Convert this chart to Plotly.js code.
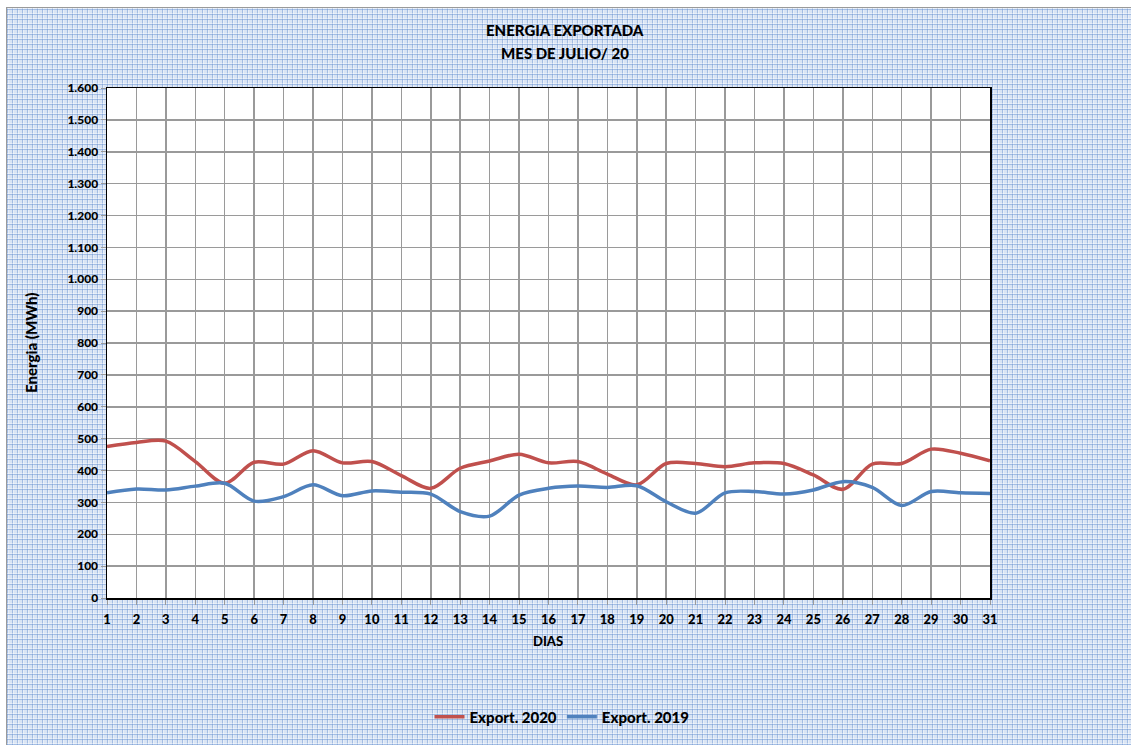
<!DOCTYPE html>
<html>
<head>
<meta charset="utf-8">
<script src="https://cdn.plot.ly/plotly-3.0.1.min.js"></script>
<style>
html,body{margin:0;padding:0;width:1131px;height:745px;overflow:hidden;background:#ffffff;}
#bg{position:absolute;left:6px;top:7px;width:1125px;height:738px;box-sizing:border-box;
 border-left:1px solid #9a9a9a;border-top:1px solid #9a9a9a;
 background-color:#d9e4f4;
 background-image:
  repeating-linear-gradient(0deg, rgba(110,150,210,0.5) 0px, rgba(110,150,210,0.5) 1px, rgba(255,255,255,0.4) 1px, rgba(255,255,255,0.4) 2px, transparent 2px, transparent 5px),
  repeating-linear-gradient(90deg, rgba(110,150,210,0.5) 0px, rgba(110,150,210,0.5) 1px, rgba(255,255,255,0.4) 1px, rgba(255,255,255,0.4) 2px, transparent 2px, transparent 5px);}
#chart{position:absolute;left:0;top:0;width:1131px;height:745px;}
</style>
</head>
<body>
<div id="bg"></div>
<div id="chart"></div>
<script>
const days = [1,2,3,4,5,6,7,8,9,10,11,12,13,14,15,16,17,18,19,20,21,22,23,24,25,26,27,28,29,30,31];
const export2020 = [475,488,492,428,360,426,420,462,424,428,384,344,407,430,451,424,428,389,355,422,422,412,424,422,386,341,420,422,467,454,430];
const export2019 = [330,342,339,351,360,304,318,355,321,336,332,326,271,257,323,344,351,347,352,302,266,330,334,326,339,365,347,290,334,330,328];
const yTicks = [0,100,200,300,400,500,600,700,800,900,1000,1100,1200,1300,1400,1500,1600];
const titleLines = ['ENERGIA EXPORTADA', 'MES DE JULIO/ 20'];
const xTitle = 'DIAS';
const yTitle = 'Energia (MWh)';

const fontFam = 'Lato, "Open Sans", "Liberation Sans", sans-serif';
const W = 900;

const traces = [
 {x: days, y: export2020, name: 'Export. 2020', mode: 'lines',
  line: {color: '#c0504d', width: 3.5, shape: 'spline', smoothing: 0.9}},
 {x: days, y: export2019, name: 'Export. 2019', mode: 'lines',
  line: {color: '#4f81bd', width: 3.5, shape: 'spline', smoothing: 0.9}}
];

const layout = {
 width: 1131, height: 745,
 separators: ',.',
 paper_bgcolor: 'rgba(0,0,0,0)',
 plot_bgcolor: '#ffffff',
 margin: {l: 107, r: 141, t: 88, b: 147},
 font: {family: fontFam, color: '#000000', size: 12, weight: W},
 xaxis: {
  range: [1, 31], tickmode: 'array', tickvals: days, ticktext: days.map(d => String(d)),
  showgrid: true, gridcolor: '#9a9a9a', gridwidth: 1.5,
  showline: true, linecolor: '#000000', linewidth: 1.5, mirror: true,
  ticks: 'outside', ticklen: 5, tickcolor: '#9a9a9a',
  ticklabelstandoff: 4,
  tickfont: {family: fontFam, size: 13, color: '#000', weight: W},
  zeroline: false
 },
 yaxis: {
  range: [0, 1600], tickmode: 'array', tickvals: yTicks,
  ticktext: yTicks.map(v => v.toLocaleString('de-DE')),
  showgrid: true, gridcolor: '#9a9a9a', gridwidth: 1.5,
  showline: true, linecolor: '#000000', linewidth: 1.5, mirror: true,
  ticks: 'outside', ticklen: 5, tickcolor: '#9a9a9a',
  tickfont: {family: fontFam, size: 12, color: '#000', weight: W},
  zeroline: false
 },
 annotations: [
  {text: titleLines[0], xref: 'paper', yref: 'paper', x: (565-107)/883, y: (598-30)/510,
   xanchor: 'center', yanchor: 'middle', showarrow: false, font: {family: fontFam, size: 15, color: '#000', weight: W}},
  {text: titleLines[1], xref: 'paper', yref: 'paper', x: (565-107)/883, y: (598-53)/510,
   xanchor: 'center', yanchor: 'middle', showarrow: false, font: {family: fontFam, size: 15, color: '#000', weight: W}},
  {text: xTitle, xref: 'paper', yref: 'paper', x: (548-107)/883, y: (598-641)/510,
   xanchor: 'center', yanchor: 'middle', showarrow: false, font: {family: fontFam, size: 13, color: '#000', weight: W}},
  {text: yTitle, xref: 'paper', yref: 'paper', x: (31-107)/883, y: (598-343)/510,
   xanchor: 'center', yanchor: 'middle', textangle: -90, showarrow: false, font: {family: fontFam, size: 15, color: '#000', weight: W}}
 ],
 showlegend: true,
 legend: {orientation: 'h', xref: 'container', x: 562/1131, xanchor: 'center',
  yref: 'container', y: 1 - 717/745, yanchor: 'middle',
  bgcolor: 'rgba(0,0,0,0)', font: {family: fontFam, size: 15, color: '#000', weight: W},
  itemwidth: 30, tracegroupgap: 0}
};

Plotly.newPlot('chart', traces, layout, {displayModeBar: false, staticPlot: true});
</script>
</body>
</html>
